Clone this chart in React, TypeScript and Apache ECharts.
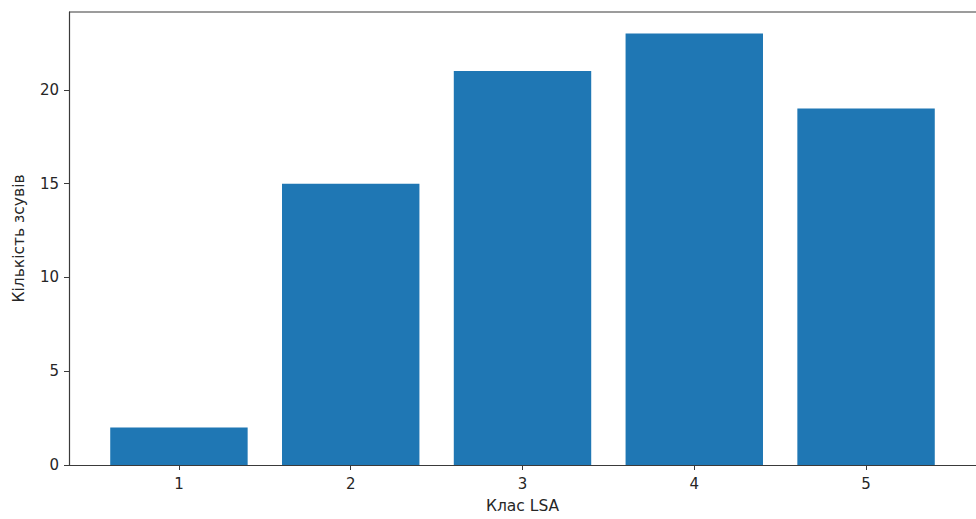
import React, { useEffect, useRef } from "react";
import * as echarts from "echarts";

const categories = [1, 2, 3, 4, 5];
const counts = [2, 15, 21, 23, 19];
const yTicks = [0, 5, 10, 15, 20];
const xLabel = "Клас LSA";
const yLabel = "Кількість зсувів";

export default function App() {
  const ref = useRef<HTMLDivElement>(null);
  useEffect(() => {
    if (!ref.current) return;
    const chart = echarts.init(ref.current, null, { renderer: "svg", width: 976, height: 519 });
    const font = "DejaVu Sans";
    const axisColor = "#3a3a3a";
    const textColor = "#262626";
    chart.setOption({
      animation: false,
      grid: { left: 69, top: 12, width: 915, height: 456 },
      xAxis: {
        type: "value",
        min: 0.36,
        max: 5.64,
        name: xLabel,
        nameLocation: "middle",
        nameGap: 33,
        nameTextStyle: { fontFamily: font, fontSize: 15.5, color: textColor },
        axisLine: { show: true, lineStyle: { color: axisColor, width: 1.2 } },
        axisTick: { show: true, length: 5, customValues: categories, lineStyle: { color: axisColor } },
        axisLabel: { customValues: categories, margin: 11, fontFamily: font, fontSize: 15, color: textColor },
        splitLine: { show: false },
      },
      yAxis: {
        type: "value",
        min: 0,
        max: 24.15,
        name: yLabel,
        nameLocation: "middle",
        nameGap: 42,
        nameTextStyle: { fontFamily: font, fontSize: 15.5, color: textColor },
        axisLine: { show: true, lineStyle: { color: axisColor, width: 1.2 } },
        axisTick: { show: true, length: 5, customValues: yTicks, lineStyle: { color: axisColor } },
        axisLabel: { customValues: yTicks, margin: 10, fontFamily: font, fontSize: 15, color: textColor },
        splitLine: { show: false },
      },
      series: [
        {
          type: "custom",
          data: categories.map((c, i) => [c, counts[i]]),
          renderItem: (params: any, api: any) => {
            const x = api.value(0);
            const y = api.value(1);
            const p1 = api.coord([x - 0.4, y]);
            const p2 = api.coord([x + 0.4, 0]);
            return {
              type: "rect",
              shape: { x: p1[0], y: p1[1], width: p2[0] - p1[0], height: p2[1] - p1[1] },
              style: { fill: "#1f77b4" },
            };
          },
          z: 1,
        },
      ],
      graphic: [
        {
          type: "line",
          shape: { x1: 69, y1: 12, x2: 976, y2: 12 },
          style: { stroke: axisColor, lineWidth: 1.2 },
          z: 10,
        },
      ],
    });
    return () => chart.dispose();
  }, []);
  return (
    <div
      style={{ position: "absolute", left: 0, top: 0, width: 976, height: 519, overflow: "hidden", background: "#fff" }}
    >
      <div ref={ref} style={{ width: 976, height: 519 }} />
    </div>
  );
}
